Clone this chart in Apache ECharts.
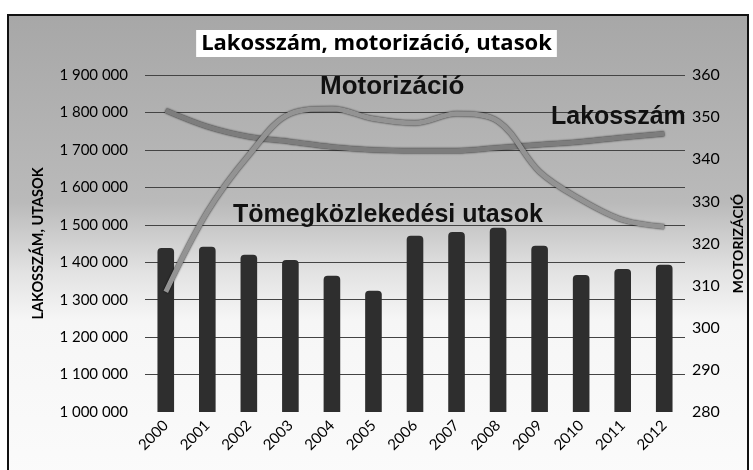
<!DOCTYPE html>
<html>
<head>
<meta charset="utf-8">
<script src="https://cdn.jsdelivr.net/npm/echarts@6/dist/echarts.min.js"></script>
<style>html,body{margin:0;padding:0;background:#fff}#c{width:753px;height:470px}</style>
</head>
<body>
<div id="c"></div>
<script>
var years = ['2000','2001','2002','2003','2004','2005','2006','2007','2008','2009','2010','2011','2012'];
var utasok = [1438000,1441000,1420000,1406000,1364000,1324000,1471000,1481000,1492000,1444000,1366000,1382000,1393000];
var lakosszam = [1805000,1762000,1735000,1722000,1708000,1700000,1698000,1698000,1706000,1714000,1722000,1733000,1743000];
var motorizacio = [308.5,327.5,341,350.8,352,349.6,348.6,350.8,349,337,330.4,325.6,324];
var leftTicks = {min:1000000, max:1900000, interval:100000};
var rightTicks = {min:280, max:360, interval:10};

var chart = echarts.init(document.getElementById('c'), null, {renderer:'canvas'});
var fnt = 'Lato, "Open Sans", sans-serif';
var narrow = '"Liberation Sans Narrow", "Arial Narrow", sans-serif';
function fmt(v){ return String(v).replace(/\B(?=(\d{3})+(?!\d))/g, '\u00a0'); }

chart.setOption({
  animation:false,
  backgroundColor:'#fff',
  title:{
    text:'Lakosszám, motorizáció, utasok',
    left:'center', top:30,
    backgroundColor:'#fff', padding:[0,5],
    textStyle:{fontFamily:'"Open Sans", Lato, sans-serif', fontWeight:'bold', fontSize:22, color:'#000', lineHeight:27}
  },
  graphic:[
    {type:'rect', z:-10, shape:{x:8,y:15,width:740,height:470},
     style:{stroke:'#111', lineWidth:2,
       fill:new echarts.graphic.LinearGradient(0,0,0,1,[
         {offset:0,color:'#a7a7a7'},{offset:0.4,color:'#bababa'},{offset:0.55,color:'#e3e3e3'},{offset:0.65,color:'#f6f6f6'},{offset:1,color:'#fbfbfb'}])}},
    {type:'text', z:100, left:320, top:74, style:{text:'Motorizáció', font:'bold 26px '+narrow, fill:'#111'}},
    {type:'text', z:100, left:551, top:105, style:{text:'Lakosszám', font:'bold 25px '+narrow, fill:'#111'}},
    {type:'text', z:100, left:233, top:203, style:{text:'Tömegközlekedési utasok', font:'bold 25px '+narrow, fill:'#111'}}
  ],
  grid:{left:145, right:68, top:75, bottom:58},
  xAxis:{
    type:'category', data:years,
    axisLine:{show:false}, axisTick:{show:false},
    axisLabel:{rotate:45, margin:11, fontFamily:fnt, fontSize:15, color:'#000'}
  },
  yAxis:[
    {type:'value', min:leftTicks.min, max:leftTicks.max, interval:leftTicks.interval,
     name:'LAKOSSZÁM, UTASOK', nameLocation:'middle', nameGap:99,
     nameTextStyle:{fontFamily:fnt, fontWeight:'bold', fontSize:14.5, color:'#000'},
     axisLine:{show:false}, axisTick:{show:false},
     axisLabel:{margin:17, fontFamily:fnt, fontSize:15, color:'#000', formatter:fmt},
     splitLine:{show:true, showMinLine:false, lineStyle:{color:'#444', width:1}}},
    {type:'value', min:rightTicks.min, max:rightTicks.max, interval:rightTicks.interval,
     name:'MOTORIZÁCIÓ', nameLocation:'middle', nameGap:46,
     nameTextStyle:{fontFamily:fnt, fontWeight:'bold', fontSize:14, color:'#000'},
     axisLine:{show:false}, axisTick:{show:false},
     axisLabel:{margin:7, fontFamily:fnt, fontSize:16, color:'#000'},
     splitLine:{show:false}}
  ],
  series:[
    {type:'bar', name:'Tömegközlekedési utasok', data:utasok, barWidth:'40%',
     itemStyle:{color:'#2e2e2e', borderRadius:[4,4,0,0]}},
    {type:'line', name:'Lakosszám', data:lakosszam, yAxisIndex:0, smooth:0.35, symbol:'none',
     lineStyle:{color:'#7d7d7d', width:5, shadowBlur:2, shadowColor:'rgba(0,0,0,0.85)'}},
    {type:'line', name:'Motorizáció', data:motorizacio, yAxisIndex:1, smooth:0.35, symbol:'none',
     lineStyle:{color:'#939393', width:5, shadowBlur:2, shadowColor:'rgba(0,0,0,0.85)'}}
  ]
});
</script>
</body>
</html>
